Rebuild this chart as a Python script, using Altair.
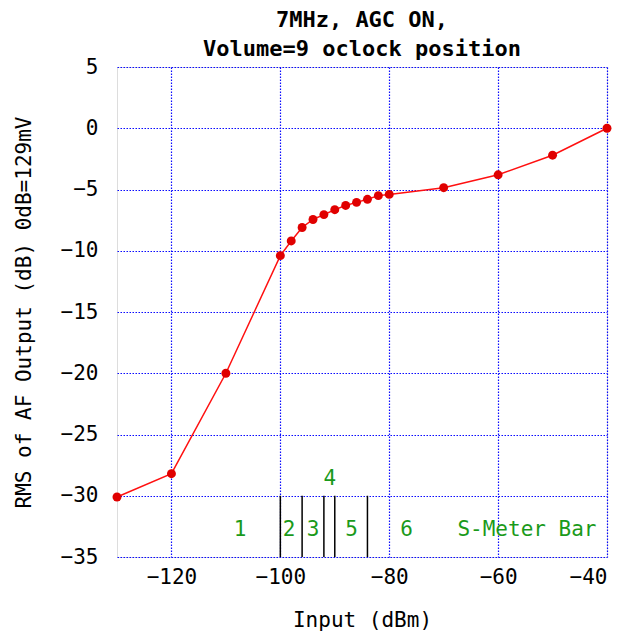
import altair as alt
import pandas as pd

# Measured curve
input_dbm = [-130, -120, -110, -100, -98, -96, -94, -92, -90, -88, -86, -84, -82, -80, -70, -60, -50, -40]
output_db = [-30.1, -28.2, -20.0, -10.4, -9.2, -8.1, -7.45, -7.05, -6.65, -6.3, -6.05, -5.8, -5.5, -5.4, -4.85, -3.8, -2.2, 0.0]

# S-meter bar boundaries
bar_x = [-100, -96, -92, -90, -84]
bar_bottom = [-35, -35, -35, -35, -35]
bar_top = [-30, -30, -30, -30, -30]

# S-meter labels
lab_text = ["1", "2", "3", "4", "5", "6", "S-Meter Bar"]
lab_x = [-107.4, -98.4, -94.0, -90.9, -86.9, -76.8, -54.7]
lab_y = [-32.8, -32.8, -32.8, -28.6, -32.8, -32.8, -32.8]

df = pd.DataFrame({"x": input_dbm, "y": output_db})
bars = pd.DataFrame({"x": bar_x, "y": bar_bottom, "y2": bar_top})
labs = pd.DataFrame({"x": lab_x, "y": lab_y, "t": lab_text})

FONT = "DejaVu Sans Mono"
BLUE = "#0a0aff"

xs = alt.Scale(domain=[-130, -40], nice=False, zero=False)
ys = alt.Scale(domain=[-35, 5], nice=False, zero=False)

xax = alt.Axis(values=[-120, -100, -80, -60, -40], title="Input (dBm)",
               labelFont=FONT, labelFontSize=21, labelColor="#000", labelPadding=9,
               titleFont=FONT, titleFontSize=21, titleFontWeight="normal", titleColor="#000",
               titlePadding=22, ticks=False, domain=False,
               grid=True, gridColor=BLUE, gridDash=[1.5, 1.5], gridWidth=1.2, gridOpacity=1)
yax = alt.Axis(values=[5, 0, -5, -10, -15, -20, -25, -30, -35],
               title="RMS of AF Output (dB) 0dB=129mV",
               labelFont=FONT, labelFontSize=21, labelColor="#000", labelPadding=19,
               titleFont=FONT, titleFontSize=21, titleFontWeight="normal", titleColor="#000",
               titlePadding=26,
               ticks=False, domain=False,
               grid=True, gridColor=BLUE, gridDash=[1.5, 1.5], gridWidth=1.2, gridOpacity=1)

line = alt.Chart(df).mark_line(color="#ff1010", strokeWidth=1.5).encode(
    x=alt.X("x:Q", scale=xs, axis=xax),
    y=alt.Y("y:Q", scale=ys, axis=yax),
)
pts = alt.Chart(df).mark_point(filled=True, color="#e00000", size=80, opacity=1, shape="circle").encode(
    x=alt.X("x:Q", scale=xs),
    y=alt.Y("y:Q", scale=ys),
)
rules = alt.Chart(bars).mark_rule(color="#000", strokeWidth=1.5).encode(
    x=alt.X("x:Q", scale=xs),
    y=alt.Y("y:Q", scale=ys),
    y2="y2:Q",
)
texts = alt.Chart(labs).mark_text(font=FONT, fontSize=21, color="#1a9a1a", align="center", baseline="middle").encode(
    x=alt.X("x:Q", scale=xs),
    y=alt.Y("y:Q", scale=ys),
    text="t:N",
)

chart = alt.layer(rules, line, pts, texts).properties(
    width=490, height=490,
    title=alt.TitleParams(text=["7MHz, AGC ON,", "Volume=9 oclock position"],
                          font=FONT, fontSize=22, fontWeight="bold", color="#000",
                          lineHeight=29, offset=-5, anchor="middle"),
    autosize=alt.AutoSizeParams(type="none"),
    padding={"left": 117, "top": 67, "right": 21, "bottom": 77},
).configure_view(stroke=BLUE, strokeWidth=2.5).configure(background="white")

chart.save("out.html", embed_options={"renderer": "svg", "actions": False})
